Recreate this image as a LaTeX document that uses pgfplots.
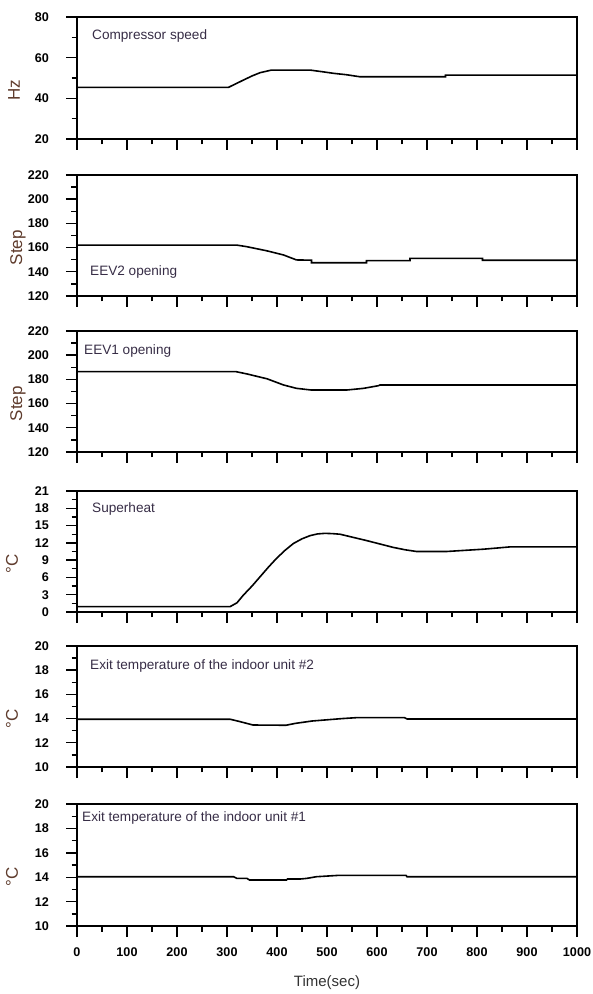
\documentclass[border=0pt]{standalone}
\usepackage{fontspec}
\setmainfont{Liberation Sans}
\usepackage{pgfplots}
\pgfplotsset{compat=1.18}
\definecolor{labbrown}{RGB}{95,60,45}
\definecolor{txtdark}{RGB}{55,45,70}
\definecolor{xlabcol}{RGB}{50,50,50}
\pgfplotsset{
 panel/.style={
  scale only axis, width=500pt,
  xmin=0, xmax=1000, xtick={0,100,...,1000},
  minor x tick num=1, minor y tick num=1,
  tick align=outside, xtick pos=bottom, ytick pos=left,
  axis line style={line width=1.4pt},
  tick style={black, line width=1.4pt},
  major tick length=11pt, minor tick length=5.5pt,
  /pgf/number format/assume math mode=true,
  ticklabel style={font=\fontsize{12.6}{14}\selectfont\bfseries, text=black},
  yticklabel style={anchor=east, inner sep=0pt, xshift=-17pt},
  xticklabels={},
  ylabel style={font=\fontsize{17}{20}\selectfont, text=labbrown, anchor=center},
 },
 dline/.style={black, line width=1.6pt, mark=none},
}
\tikzset{plabel/.style={anchor=west, inner sep=0pt, text=txtdark, font=\fontsize{13.6}{16}\selectfont}}
\begin{document}
\begin{tikzpicture}[x=1pt,y=1pt]
\path[use as bounding box] (0,0) rectangle (593,994);

% Panel 1: Compressor speed
\begin{axis}[panel, at={(77pt,855pt)}, anchor=south west, height=122pt,
  ymin=20, ymax=80, ytick={20,40,60,80},
  ylabel={Hz}, ylabel style={at={(axis description cs:-0.126,0.4)}}]
\addplot[dline] coordinates {(0,45.4) (303,45.4) (318,47.2) (333,49.0) (350,51.0) (366,52.6) (389,53.9) (466,53.9) (490,53.1) (513,52.3) (539,51.6) (566,50.6) (737,50.6) (737,51.4) (1000,51.4)};
\node[plabel] at (rel axis cs:0.03,0.847) {Compressor speed};
\end{axis}

% Panel 2: EEV2 opening
\begin{axis}[panel, at={(77pt,698pt)}, anchor=south west, height=121pt,
  ymin=120, ymax=220, ytick={120,140,...,220},
  ylabel={Step}, ylabel style={at={(axis description cs:-0.118,0.4)}}]
\addplot[dline] coordinates {(0,162.1) (319,162.1) (339,160.8) (379,157.4) (413,153.9) (439,149.8) (469,149.6) (469,147.5) (579,147.5) (579,149.2) (666,149.2) (666,151.1) (811,151.1) (811,149.5) (1000,149.5)};
\node[plabel] at (rel axis cs:0.026,0.2) {EEV2 opening};
\end{axis}

% Panel 3: EEV1 opening
\begin{axis}[panel, at={(77pt,542pt)}, anchor=south west, height=121pt,
  ymin=120, ymax=220, ytick={120,140,...,220},
  ylabel={Step}, ylabel style={at={(axis description cs:-0.118,0.4)}}]
\addplot[dline] coordinates {(0,186.4) (318,186.4) (340,184.5) (380,180.5) (413,175.4) (439,172.6) (469,171.2) (539,171.2) (573,172.6) (603,174.8) (606,175.4) (1000,175.4)};
\node[plabel] at (rel axis cs:0.014,0.837) {EEV1 opening};
\end{axis}

% Panel 4: Superheat
\begin{axis}[panel, at={(77pt,382pt)}, anchor=south west, height=121pt,
  ymin=0, ymax=21, ytick={0,3,...,21},
  ylabel={\textdegree C}, ylabel style={at={(axis description cs:-0.13,0.4)}}]
\addplot[dline] coordinates {(0,0.92) (306,0.92) (320,1.6) (333,2.95) (350,4.5) (366,6.1) (383,7.8) (399,9.3) (416,10.7) (433,11.9) (450,12.7) (466,13.25) (481,13.55) (496,13.65) (511,13.6) (526,13.5) (550,13.0) (579,12.4) (606,11.8) (633,11.2) (656,10.8) (679,10.5) (739,10.5) (776,10.7) (813,10.9) (840,11.1) (866,11.3) (1000,11.3)};
\node[plabel] at (rel axis cs:0.03,0.851) {Superheat};
\end{axis}

% Panel 5: Exit temperature #2
\begin{axis}[panel, at={(77pt,227pt)}, anchor=south west, height=121pt,
  ymin=10, ymax=20, ytick={10,12,...,20},
  ylabel={\textdegree C}, ylabel style={at={(axis description cs:-0.13,0.4)}}]
\addplot[dline] coordinates {(0,13.95) (306,13.95) (326,13.75) (352,13.47) (418,13.45) (436,13.6) (470,13.8) (500,13.9) (530,14.0) (560,14.08) (655,14.08) (660,13.97) (1000,13.97)};
\node[plabel] at (rel axis cs:0.026,0.837) {Exit temperature of the indoor unit \#2};
\end{axis}

% Panel 6: Exit temperature #1
\begin{axis}[panel, at={(77pt,68pt)}, anchor=south west, height=122pt,
  ymin=10, ymax=20, ytick={10,12,...,20},
  xticklabels={0,100,200,300,400,500,600,700,800,900,1000},
  xticklabel style={anchor=north, inner sep=0pt, yshift=-10pt},
  ylabel={\textdegree C}, ylabel style={at={(axis description cs:-0.13,0.4)}},
  xlabel={Time(sec)}, xlabel style={at={(axis description cs:0.5,-0.467)}, anchor=center, font=\fontsize{15}{18}\selectfont, text=xlabcol}]
\addplot[dline] coordinates {(0,14.04) (313,14.04) (320,13.9) (340,13.9) (345,13.77) (419,13.77) (421,13.85) (446,13.85) (459,13.9) (479,14.04) (523,14.15) (658,14.15) (660,14.04) (1000,14.04)};
\node[plabel] at (rel axis cs:0.01,0.883) {Exit temperature of the indoor unit \#1};
\end{axis}
\end{tikzpicture}
\end{document}
